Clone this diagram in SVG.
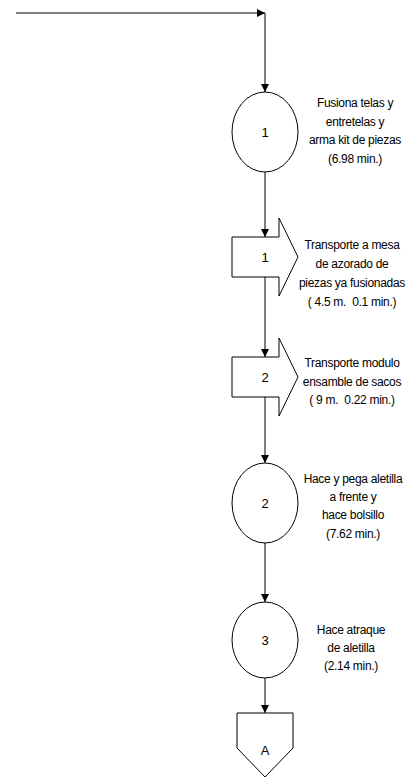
<svg xmlns="http://www.w3.org/2000/svg" width="420" height="778" viewBox="0 0 420 778">
<style>
.shape{fill:#fff;stroke:#000;stroke-width:1}
.edge{fill:none;stroke:#000;stroke-width:1}
.num{font-family:"Liberation Sans",Arial,sans-serif;font-size:13px;text-anchor:middle;fill:#000}
.lbl{font-family:"Liberation Sans",Arial,sans-serif;font-size:12px;text-anchor:middle;fill:#000;letter-spacing:-0.3px}
</style>
<defs>
<marker id="ah" viewBox="0 0 10 10" refX="10" refY="5" markerWidth="9" markerHeight="8" markerUnits="userSpaceOnUse" orient="auto">
<path d="M0,0 L10,5 L0,10 Z" fill="#000"/>
</marker>
</defs>
<g id="connectors">
<path class="edge" d="M16,13 H265" marker-end="url(#ah)"/>
<path class="edge" d="M265,13 V92" marker-end="url(#ah)"/>
<path class="edge" d="M265,172 V237" marker-end="url(#ah)"/>
<path class="edge" d="M265,277 V357" marker-end="url(#ah)"/>
<path class="edge" d="M265,397 V463" marker-end="url(#ah)"/>
<path class="edge" d="M265,543 V602" marker-end="url(#ah)"/>
<path class="edge" d="M265,678 V713" marker-end="url(#ah)"/>
</g>
<g id="op1">
<ellipse class="shape" cx="265" cy="132" rx="33" ry="40"/>
<text class="num" x="265" y="137">1</text>
<text class="lbl" x="355" y="107">Fusiona telas y</text>
<text class="lbl" x="355" y="125.5">entretelas y</text>
<text class="lbl" x="355" y="144">arma kit de piezas</text>
<text class="lbl" x="355" y="162.5">(6.98 min.)</text>
</g>
<g id="tr1">
<path class="shape" d="M232,237 H279 V218 L298,257 L279,296 V277 H232 Z"/>
<text class="num" x="265" y="262">1</text>
<text class="lbl" x="352" y="249">Transporte a mesa</text>
<text class="lbl" x="352" y="268">de azorado de</text>
<text class="lbl" x="352" y="287">piezas ya fusionadas</text>
<text class="lbl" x="352" y="306" xml:space="preserve">( 4.5 m.  0.1 min.)</text>
</g>
<g id="tr2">
<path class="shape" d="M232,357 H279 V338 L298,377 L279,416 V397 H232 Z"/>
<text class="num" x="265" y="382">2</text>
<text class="lbl" x="352" y="367">Transporte modulo</text>
<text class="lbl" x="352" y="386">ensamble de sacos</text>
<text class="lbl" x="352" y="404" xml:space="preserve">( 9 m.  0.22 min.)</text>
</g>
<g id="op2">
<ellipse class="shape" cx="265" cy="503" rx="33" ry="40"/>
<text class="num" x="265" y="508">2</text>
<text class="lbl" x="353" y="483">Hace y pega aletilla</text>
<text class="lbl" x="353" y="501">a frente y</text>
<text class="lbl" x="353" y="519">hace bolsillo</text>
<text class="lbl" x="353" y="538">(7.62 min.)</text>
</g>
<g id="op3">
<ellipse class="shape" cx="265" cy="640" rx="33" ry="38"/>
<text class="num" x="265" y="645">3</text>
<text class="lbl" x="351" y="634">Hace atraque</text>
<text class="lbl" x="351" y="652">de aletilla</text>
<text class="lbl" x="351" y="670">(2.14 min.)</text>
</g>
<g id="connA">
<path class="shape" d="M237,713 H293 V748 L265,777 L237,748 Z"/>
<text class="num" x="265" y="755">A</text>
</g>
</svg>
